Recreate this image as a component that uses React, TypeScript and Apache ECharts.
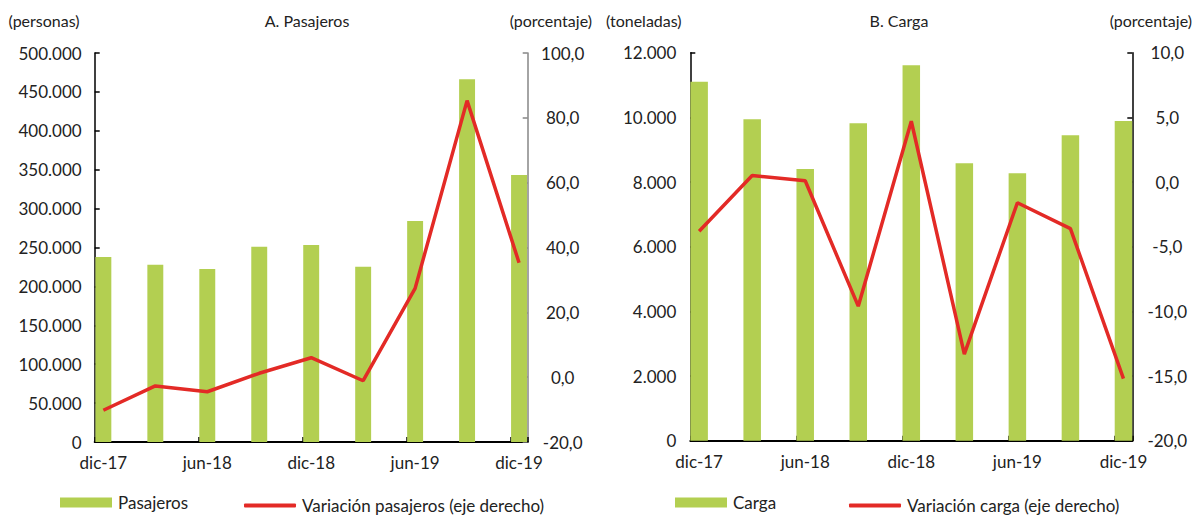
import React, { useEffect, useRef } from 'react';
import * as echarts from 'echarts';

const months = [
  'dic-17', 'ene-18', 'feb-18', 'mar-18', 'abr-18', 'may-18', 'jun-18', 'jul-18', 'ago-18',
  'sep-18', 'oct-18', 'nov-18', 'dic-18', 'ene-19', 'feb-19', 'mar-19', 'abr-19', 'may-19',
  'jun-19', 'jul-19', 'ago-19', 'sep-19', 'oct-19', 'nov-19', 'dic-19',
];
const quarters = ['dic-17', 'mar-18', 'jun-18', 'sep-18', 'dic-18', 'mar-19', 'jun-19', 'sep-19', 'dic-19'];

const pasajeros = [237800, 227900, 222400, 251000, 253200, 225300, 284000, 466200, 343200];
const variacionPasajeros = [-10.2, -2.7, -4.5, 1.2, 6.0, -1.1, 27.4, 85.3, 35.3];
const carga = [11104, 9941, 8404, 9817, 11611, 8580, 8271, 9446, 9889];
const variacionCarga = [-3.8, 0.5, 0.1, -9.6, 4.7, -13.3, -1.6, -3.6, -15.2];

const FONT = 'Lato, "Open Sans", sans-serif';
const TEXT = '#222222';
const GREEN = '#b3cf51';
const RED = '#e32a26';

function toMonths(values: number[]): (number | null)[] {
  return months.map((m) => {
    const i = quarters.indexOf(m);
    return i >= 0 ? values[i] : null;
  });
}

const thousands = (v: number) => String(v).replace(/\B(?=(\d{3})+(?!\d))/g, '.');
const decimal = (v: number) => v.toFixed(1).replace('.', ',');

function xAxis(gridIndex: number) {
  return {
    type: 'category',
    gridIndex,
    data: months,
    boundaryGap: true,
    axisLine: { show: true, lineStyle: { color: '#000', width: 2 } },
    axisTick: { show: true, inside: true, interval: 5, length: 5, lineStyle: { color: '#000', width: 1.5 } },
    axisLabel: { interval: 5, margin: 12, fontSize: 17, color: TEXT, fontFamily: FONT },
    splitLine: { show: false },
  };
}

function yAxis(gridIndex: number, position: string, min: number, max: number, interval: number,
  color: string, formatter: (v: number) => string, margin: number, align?: string) {
  return {
    type: 'value',
    gridIndex,
    position,
    min,
    max,
    interval,
    axisLine: { show: true, lineStyle: { color, width: 1.5 } },
    axisTick: { show: true, inside: true, length: 5, lineStyle: { color, width: 1.5 } },
    axisLabel: { formatter, margin, fontSize: 17, color: TEXT, fontFamily: FONT, ...(align ? { align } : {}) },
    splitLine: { show: false },
  };
}

function legend(name: string, left: number, isLine: boolean) {
  return {
    data: [{ name, icon: isLine ? 'roundRect' : 'rect' }],
    left,
    top: isLine ? 497 : 494,
    padding: 0,
    itemWidth: 52,
    itemHeight: isLine ? 4 : 10,
    itemGap: 0,
    textStyle: { fontSize: 17, color: TEXT, fontFamily: FONT, padding: [0, 0, 0, 1] },
  };
}

function label(text: string, x: number, y: number, align: string) {
  return {
    type: 'text',
    x,
    y,
    style: {
      text,
      fill: TEXT,
      font: `16px ${FONT}`,
      align,
      textAlign: align,
      verticalAlign: 'middle',
      textVerticalAlign: 'middle',
    },
  };
}

export default function App() {
  const ref = useRef<HTMLDivElement>(null);
  useEffect(() => {
    document.body.style.margin = '0';
    const chart = echarts.init(ref.current as HTMLDivElement, null, { renderer: 'svg' });
    chart.setOption({
      animation: false,
      grid: [
        { left: 94.7, top: 53, width: 433, height: 389 },
        { left: 690.3, top: 52.7, width: 442, height: 388 },
      ],
      xAxis: [xAxis(0), xAxis(1)],
      yAxis: [
        yAxis(0, 'left', 0, 500000, 50000, '#000', thousands, 13),
        yAxis(0, 'right', -20, 100, 20, '#868686', decimal, 35, 'center'),
        yAxis(1, 'left', 0, 12000, 2000, '#000', thousands, 14),
        yAxis(1, 'right', -20, 10, 5, '#000', decimal, 35, 'center'),
      ],
      legend: [
        legend('Pasajeros', 60, false),
        legend('Variación pasajeros (eje derecho)', 244, true),
        legend('Carga', 675, false),
        legend('Variación carga (eje derecho)', 849, true),
      ],
      graphic: [
        label('(personas)', 8.5, 20, 'left'),
        label('A. Pasajeros', 307, 20, 'center'),
        label('(porcentaje)', 592, 20, 'right'),
        label('(toneladas)', 606, 20, 'left'),
        label('B. Carga', 899, 20, 'center'),
        label('(porcentaje)', 1192, 20, 'right'),
      ],
      series: [
        {
          name: 'Pasajeros', type: 'bar', xAxisIndex: 0, yAxisIndex: 0,
          data: toMonths(pasajeros), barCategoryGap: '8%', itemStyle: { color: GREEN },
        },
        {
          name: 'Variación pasajeros (eje derecho)', type: 'line', xAxisIndex: 0, yAxisIndex: 1,
          data: toMonths(variacionPasajeros), connectNulls: true, symbol: 'none', z: 5,
          lineStyle: { color: RED, width: 3.5 }, itemStyle: { color: RED },
        },
        {
          name: 'Carga', type: 'bar', xAxisIndex: 1, yAxisIndex: 2,
          data: toMonths(carga), barCategoryGap: '1%', itemStyle: { color: GREEN },
        },
        {
          name: 'Variación carga (eje derecho)', type: 'line', xAxisIndex: 1, yAxisIndex: 3,
          data: toMonths(variacionCarga), connectNulls: true, symbol: 'none', z: 5,
          lineStyle: { color: RED, width: 3.5 }, itemStyle: { color: RED },
        },
      ],
    });
    return () => chart.dispose();
  }, []);
  return <div ref={ref} style={{ width: 1204, height: 515 }} />;
}
